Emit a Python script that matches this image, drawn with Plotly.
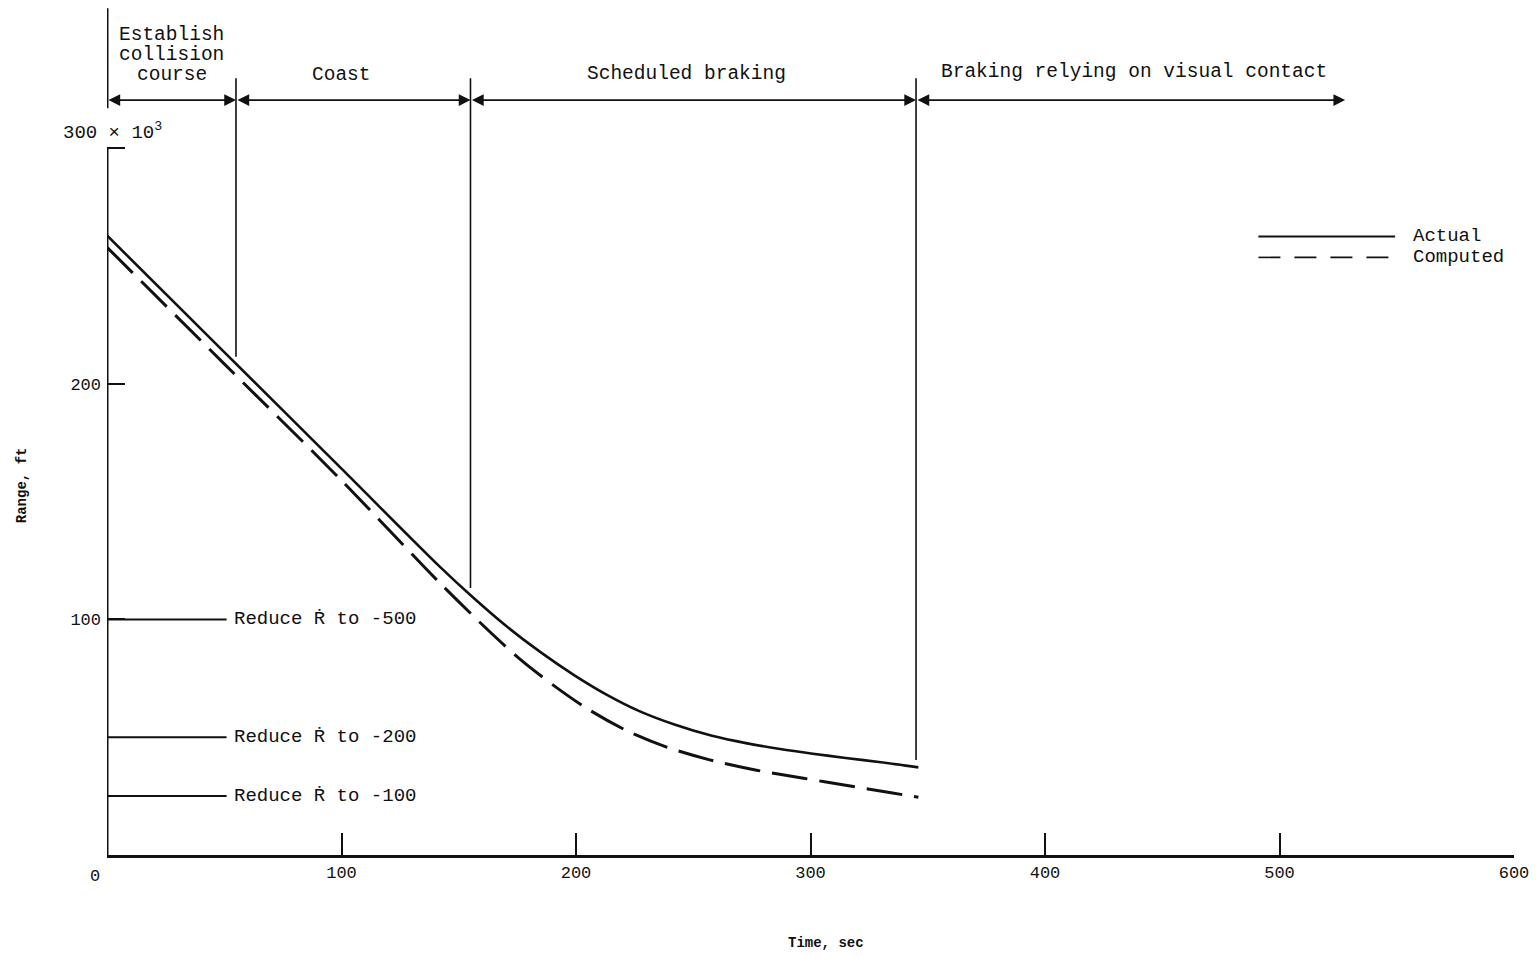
import numpy as np
import plotly.graph_objects as go

# ---------------- data ----------------
time_actual = [0, 50, 100, 142, 156, 170, 185, 199, 213, 227, 242, 258, 273, 287, 301, 315, 330, 346]
range_actual = [263, 213.5, 164, 122.3, 109.4, 97.4, 86.0, 76.5, 68.1, 61.1, 55.4, 50.6,
                47.4, 45.0, 43.0, 41.2, 39.4, 37.2]

time_computed = [0, 50, 100, 142, 163, 177, 191, 205, 222, 239, 257, 277, 297, 315, 335, 346]
range_computed = [258, 208.5, 159, 115.4, 95.0, 82.4, 71.6, 62.0, 52.6, 45.7, 40.4, 36.0,
                  32.6, 29.6, 26.3, 24.5]

phase_bounds = [0, 55, 155, 345, 528]
phase_names = ["Establish collision course", "Coast", "Scheduled braking",
               "Braking relying on visual contact"]

rdot_levels = [100, 50, 25]          # range (x10^3 ft) at which Rdot is reduced
rdot_values = [-500, -200, -100]

x_ticks = [100, 200, 300, 400, 500, 600]
y_ticks = [100, 200, 300]

# ---------------- style ----------------
INK = "#111111"
MONO = "Liberation Mono, DejaVu Sans Mono, monospace"

fig = go.Figure()

fig.add_trace(go.Scatter(
    x=time_actual, y=range_actual, mode="lines", name="Actual",
    line=dict(color=INK, width=2.6, shape="spline", smoothing=0.8),
    showlegend=False, hoverinfo="skip"))
fig.add_trace(go.Scatter(
    x=time_computed, y=range_computed, mode="lines", name="Computed",
    line=dict(color=INK, width=3, dash="36px,12px", shape="spline", smoothing=0.8),
    showlegend=False, hoverinfo="skip"))

shapes = []
annotations = []

# y axis line (0..300)
shapes.append(dict(type="line", xref="x", yref="y", x0=0, x1=0, y0=0, y1=300,
                   line=dict(color=INK, width=3)))

# phase boundary vertical lines
ARROW_Y = 320.5
TOP_Y = 329.7
shapes.append(dict(type="line", xref="x", yref="y", x0=0, x1=0, y0=317, y1=359.5,
                   line=dict(color=INK, width=3)))
for tb in phase_bounds[1:4]:
    bottom = float(np.interp(tb, time_actual, range_actual)) + 3
    shapes.append(dict(type="line", xref="x", yref="y", x0=tb, x1=tb,
                       y0=bottom, y1=TOP_Y, line=dict(color=INK, width=1.6)))

# double-headed arrows
for a, b in zip(phase_bounds[:-1], phase_bounds[1:]):
    annotations.append(dict(
        x=b, y=ARROW_Y, ax=a, ay=ARROW_Y, xref="x", yref="y", axref="x", ayref="y",
        text="", showarrow=True, arrowhead=2, startarrowhead=2, arrowside="end+start",
        arrowsize=1.3, startarrowsize=1.3, arrowwidth=1.8, arrowcolor=INK,
        standoff=0, startstandoff=0))

# phase labels
lab_font = dict(family=MONO, size=19.5, color=INK)
for i, line in enumerate(["Establish", "collision", "course"]):
    annotations.append(dict(x=27.7, y=348.3 - i * 8.5, xref="x", yref="y", text=line,
                            showarrow=False, font=lab_font, xanchor="center", yanchor="middle"))
annotations.append(dict(x=100.2, y=331.3, xref="x", yref="y", text=phase_names[1],
                        showarrow=False, font=lab_font, xanchor="center", yanchor="middle"))
annotations.append(dict(x=247, y=331.7, xref="x", yref="y", text=phase_names[2],
                        showarrow=False, font=lab_font, xanchor="center", yanchor="middle"))
annotations.append(dict(x=438, y=332.2, xref="x", yref="y", text=phase_names[3],
                        showarrow=False, font=lab_font, xanchor="center", yanchor="middle"))

# Rdot reduction markers
for lvl, val in zip(rdot_levels, rdot_values):
    shapes.append(dict(type="line", xref="x", yref="y", x0=0, x1=51, y0=lvl, y1=lvl,
                       line=dict(color=INK, width=2)))
    annotations.append(dict(x=53.5, y=lvl, xref="x", yref="y",
                            text=f"Reduce \u1E58 to {val}", showarrow=False,
                            font=dict(family=MONO, size=19, color=INK),
                            xanchor="left", yanchor="middle"))

# legend (drawn)
shapes.append(dict(type="line", xref="x", yref="y", x0=491, x1=549.3, y0=262.6, y1=262.6,
                   line=dict(color=INK, width=2)))
shapes.append(dict(type="line", xref="x", yref="y", x0=491, x1=549.3, y0=253.7, y1=253.7,
                   line=dict(color=INK, width=1.6, dash="22px,14px")))
annotations.append(dict(x=556, y=262.6, xref="x", yref="y", text="Actual", showarrow=False,
                        font=dict(family=MONO, size=19, color=INK), xanchor="left", yanchor="middle"))
annotations.append(dict(x=556, y=253.7, xref="x", yref="y", text="Computed", showarrow=False,
                        font=dict(family=MONO, size=19, color=INK), xanchor="left", yanchor="middle"))

# axis extras
annotations.append(dict(x=0, y=300, xref="x", yref="y", text="300 × 10<sup>3</sup>",
                        showarrow=False, font=dict(family=MONO, size=19, color=INK),
                        xanchor="center", yanchor="bottom", xshift=5, yshift=2))
annotations.append(dict(x=0, y=0, xref="x", yref="y", text="0", showarrow=False,
                        font=dict(family=MONO, size=17, color=INK),
                        xanchor="center", yanchor="top", xshift=-12, yshift=-10))
annotations.append(dict(x=306.5, y=0, xref="x", yref="y", text="<b>Time, sec</b>",
                        showarrow=False, font=dict(family=MONO, size=14, color=INK),
                        xanchor="center", yanchor="middle", yshift=-88))
annotations.append(dict(x=0, y=157, xref="x", yref="y", text="<b>Range, ft</b>",
                        showarrow=False, font=dict(family=MONO, size=14, color=INK),
                        textangle=-90, xanchor="center", yanchor="middle", xshift=-85))

fig.update_layout(
    width=1540, height=958,
    margin=dict(l=107, r=26, t=7, b=103),
    paper_bgcolor="white", plot_bgcolor="white",
    shapes=shapes, annotations=annotations,
    showlegend=False,
    xaxis=dict(range=[0, 600], tickvals=x_ticks, ticks="inside", ticklen=22,
               tickwidth=1.6, tickcolor=INK, showline=True, linecolor=INK, linewidth=3,
               showgrid=False, zeroline=False,
               tickfont=dict(family=MONO, size=17, color=INK)),
    yaxis=dict(range=[0, 360], tickvals=y_ticks, ticktext=["100", "200", ""],
               ticks="inside", ticklen=18, tickwidth=1.6, tickcolor=INK,
               ticklabelstandoff=5,
               showline=False, showgrid=False, zeroline=False,
               tickfont=dict(family=MONO, size=17, color=INK)),
)

fig.write_html("out.html", config={"displayModeBar": False},
               post_script="document.body.style.margin='0';document.body.style.overflow='hidden';")
